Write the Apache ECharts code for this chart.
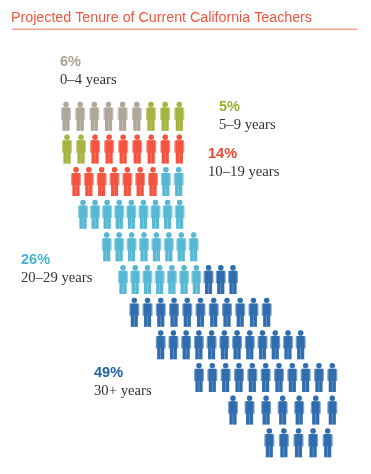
<!DOCTYPE html>
<html>
<head>
<meta charset="utf-8">
<script src="https://cdn.jsdelivr.net/npm/echarts@6/dist/echarts.min.js"></script>
<style>
  html, body { margin: 0; padding: 0; background: #fff; }
  #chart { width: 371px; height: 474px; }
</style>
</head>
<body>
<div id="chart"></div>
<script>
const titleText = 'Projected Tenure of Current California Teachers'
const bands = ['0–4 years', '5–9 years', '10–19 years', '20–29 years', '30+ years']
const shares = [6, 5, 14, 26, 49]
const colors = ['#A89F91', '#9DAD30', '#F2452F', '#48B3D0', '#1F62A8']

// how many figures of each band stand in each row, top to bottom
const rows = ['1', '2', '3', '4', '5', '6', '7', '8', '9', '10', '11']
const row0to4 = [6, 0, 0, 0, 0, 0, 0, 0, 0, 0, 0]
const row5to9 = [3, 2, 0, 0, 0, 0, 0, 0, 0, 0, 0]
const row10to19 = [0, 7, 7, 0, 0, 0, 0, 0, 0, 0, 0]
const row20to29 = [0, 0, 2, 9, 8, 7, 0, 0, 0, 0, 0]
const row30plus = [0, 0, 0, 0, 0, 3, 11, 12, 11, 7, 5]

// layout only: where each row starts and ends on the page, and where labels go
const rowFirst = [66, 67, 76, 83, 106.7, 123, 134.3, 160.7, 199, 233, 269.3]
const rowLast = [179.3, 179.3, 178.7, 179.7, 193.7, 233, 266.7, 300.7, 332.3, 332.3, 327.7]
const labelPos = [[60, 62], [219, 107], [208, 154], [21, 260], [94, 373]]

const bodyPath = 'path://M50 0A27 27 0 1 1 50 54A27 27 0 1 1 50 0ZM14 58L86 58Q100 58 100 72L100 182L86 182L86 290L14 290L14 182L0 182L0 72Q0 58 14 58Z'
const corePath = 'path://M38 0A27 27 0 1 1 38 54A27 27 0 1 1 38 0ZM4 58L72 58Q76 58 76 62L76 178L72 178L72 290L41 290L41 178L35 178L35 290L4 290L4 178L0 178L0 62Q0 58 4 58Z'

const counts = [row0to4, row5to9, row10to19, row20to29, row30plus]

function figuresOf(bandIndex) {
  const out = []
  rows.forEach((row, r) => {
    const total = counts.reduce((sum, c) => sum + c[r], 0)
    const step = (rowLast[r] - rowFirst[r]) / (total - 1)
    let before = 0
    for (let b = 0; b < bandIndex; b++) before += counts[b][r]
    for (let i = 0; i < counts[bandIndex][r]; i++) {
      out.push([rowFirst[r] + (before + i) * step, row])
    }
  })
  return out
}

const series = []
bands.forEach((band, b) => {
  const points = figuresOf(b)
  series.push({
    name: band,
    type: 'scatter',
    data: points,
    symbol: bodyPath,
    symbolSize: [10, 29],
    silent: true,
    itemStyle: { color: colors[b], opacity: 0.6 }
  })
  series.push({
    name: band,
    type: 'scatter',
    data: points,
    symbol: corePath,
    symbolSize: [7.6, 29],
    silent: true,
    itemStyle: { color: colors[b] }
  })
})

const graphics = [{
  type: 'rect',
  shape: { x: 12, y: 28.5, width: 345, height: 1.6 },
  style: { fill: '#F9A093' }
}]
bands.forEach((band, b) => {
  graphics.push({
    type: 'text',
    x: labelPos[b][0],
    y: labelPos[b][1],
    style: {
      text: shares[b] + '%',
      fill: colors[b],
      font: 'bold 14.5px "Liberation Sans"',
      textVerticalAlign: 'middle'
    }
  })
  graphics.push({
    type: 'text',
    x: labelPos[b][0],
    y: labelPos[b][1] + 18,
    style: {
      text: band,
      fill: '#333',
      font: '14.7px "Liberation Serif"',
      textVerticalAlign: 'middle'
    }
  })
})

const chart = echarts.init(document.getElementById('chart'))
chart.setOption({
  animation: false,
  title: {
    text: titleText,
    left: 11,
    top: 11,
    padding: 0,
    textStyle: {
      color: '#F2553F',
      fontFamily: 'Liberation Sans',
      fontSize: 14.25,
      fontWeight: 'normal'
    }
  },
  grid: { left: 0, right: 0, top: 100, height: 359 },
  xAxis: { type: 'value', min: 0, max: 371, show: false },
  yAxis: { type: 'category', data: rows, inverse: true, show: false },
  graphic: graphics,
  series: series
})
</script>
</body>
</html>
